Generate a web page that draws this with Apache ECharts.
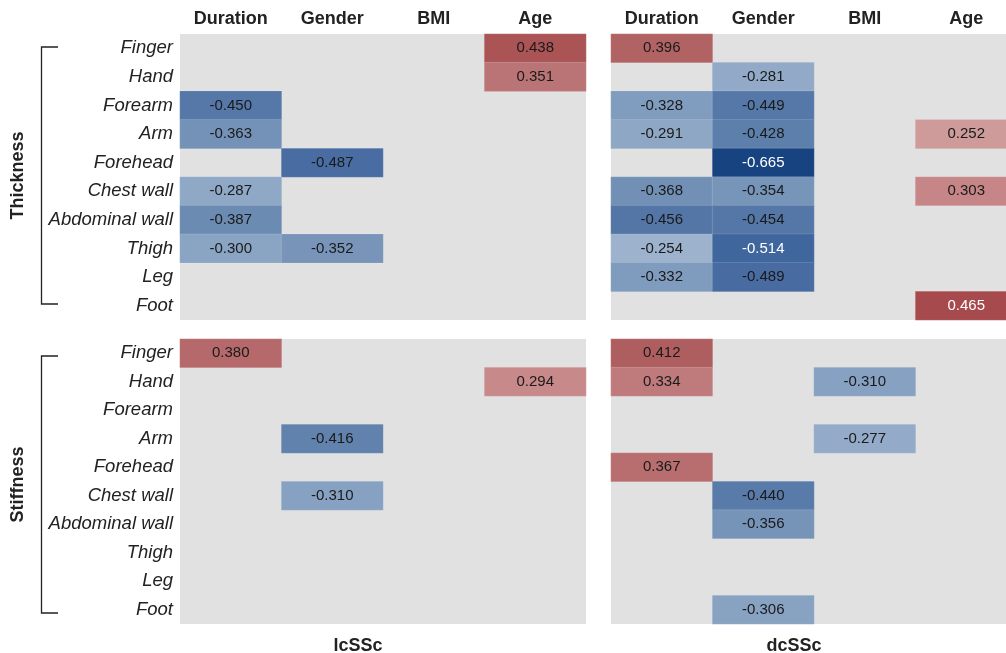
<!DOCTYPE html>
<html>
<head>
<meta charset="utf-8">
<script src="https://cdn.jsdelivr.net/npm/echarts@6/dist/echarts.min.js"></script>
<style>
  html, body { margin: 0; padding: 0; background: #ffffff; }
  #chart { width: 1006px; height: 653px; }
</style>
</head>
<body>
<div id="chart"></div>
<script>
// Body sites (rows) and clinical variables (columns)
const sites = ['Finger', 'Hand', 'Forearm', 'Arm', 'Forehead', 'Chest wall', 'Abdominal wall', 'Thigh', 'Leg', 'Foot'];
const variables = ['Duration', 'Gender', 'BMI', 'Age'];
const subsets = ['lcSSc', 'dcSSc'];
const measures = ['Thickness', 'Stiffness'];

// Significant correlation coefficients; null = not significant
// Columns: Duration, Gender, BMI, Age
const lcThickness = [
  [null, null, null, 0.438],
  [null, null, null, 0.351],
  [-0.450, null, null, null],
  [-0.363, null, null, null],
  [null, -0.487, null, null],
  [-0.287, null, null, null],
  [-0.387, null, null, null],
  [-0.300, -0.352, null, null],
  [null, null, null, null],
  [null, null, null, null]
];
const dcThickness = [
  [0.396, null, null, null],
  [null, -0.281, null, null],
  [-0.328, -0.449, null, null],
  [-0.291, -0.428, null, 0.252],
  [null, -0.665, null, null],
  [-0.368, -0.354, null, 0.303],
  [-0.456, -0.454, null, null],
  [-0.254, -0.514, null, null],
  [-0.332, -0.489, null, null],
  [null, null, null, 0.465]
];
const lcStiffness = [
  [0.380, null, null, null],
  [null, null, null, 0.294],
  [null, null, null, null],
  [null, -0.416, null, null],
  [null, null, null, null],
  [null, -0.310, null, null],
  [null, null, null, null],
  [null, null, null, null],
  [null, null, null, null],
  [null, null, null, null]
];
const dcStiffness = [
  [0.412, null, null, null],
  [0.334, null, -0.310, null],
  [null, null, null, null],
  [null, null, -0.277, null],
  [0.367, null, null, null],
  [null, -0.440, null, null],
  [null, -0.356, null, null],
  [null, null, null, null],
  [null, null, null, null],
  [null, -0.306, null, null]
];

const FONT = "'Liberation Sans', Arial, Helvetica, sans-serif";
const TEXT = '#222222';

// panel layout: [matrix, column index (subset), row index (measure)]
const panels = [
  [lcThickness, 0, 0],
  [dcThickness, 1, 0],
  [lcStiffness, 0, 1],
  [dcStiffness, 1, 1]
];
// the right-hand panels run slightly past the canvas edge
const gridLeft = [180, 611];
const gridW = 406;
const gridTop = [34, 339];
const gridH = [286, 285];

function cells(matrix) {
  const out = [];
  matrix.forEach((row, r) => {
    row.forEach((v, c) => {
      if (v === null) return;
      const light = v <= -0.5 || v >= 0.45;
      out.push({
        value: [c, r, v],
        label: { color: light ? '#ffffff' : '#1a1a1a' }
      });
    });
  });
  return out;
}

const grids = [], xAxes = [], yAxes = [], series = [];
panels.forEach(([matrix, col, row], i) => {
  grids.push({
    left: gridLeft[col], width: gridW, top: gridTop[row], height: gridH[row],
    outerBoundsMode: 'none',
    show: true, backgroundColor: '#e1e1e1', borderWidth: 0, containLabel: false
  });
  xAxes.push({
    type: 'category', gridIndex: i, data: variables, position: 'top',
    axisLine: { show: false }, axisTick: { show: false }, splitLine: { show: false },
    axisLabel: {
      show: row === 0, interval: 0, hideOverlap: false, margin: 6,
      fontFamily: FONT, fontSize: 18, fontWeight: 'bold', color: TEXT
    }
  });
  yAxes.push({
    type: 'category', gridIndex: i, data: sites, inverse: true,
    axisLine: { show: false }, axisTick: { show: false }, splitLine: { show: false },
    axisLabel: {
      show: col === 0, interval: 0, hideOverlap: false, margin: 7,
      fontFamily: FONT, fontSize: 18.5, fontStyle: 'italic', color: TEXT
    }
  });
  series.push({
    type: 'heatmap', xAxisIndex: i, yAxisIndex: i,
    data: cells(matrix),
    label: {
      show: true, fontFamily: FONT, fontSize: 15,
      formatter: p => p.value[2].toFixed(3)
    },
    itemStyle: { borderColor: 'rgba(255,255,255,0.25)', borderWidth: 0.5 },
    emphasis: { disabled: true }
  });
});

// bracket lines and group titles
const graphic = [];
const brackets = [[47, 304], [356, 613]];
brackets.forEach(([y1, y2], k) => {
  graphic.push({
    type: 'polyline', silent: true,
    shape: { points: [[58, y1], [41.5, y1], [41.5, y2], [58, y2]] },
    style: { stroke: '#222222', lineWidth: 1.3, fill: null }
  });
  graphic.push({
    type: 'text', silent: true, x: 18, y: (y1 + y2) / 2, rotation: Math.PI / 2,
    style: {
      text: measures[k], font: 'bold 18px ' + FONT, fill: TEXT,
      align: 'center', verticalAlign: 'middle'
    }
  });
});
[358, 794].forEach((x, k) => {
  graphic.push({
    type: 'text', silent: true, x: x, y: 646,
    style: {
      text: subsets[k], font: 'bold 18px ' + FONT, fill: TEXT,
      align: 'center', verticalAlign: 'middle'
    }
  });
});

const chart = echarts.init(document.getElementById('chart'), null, { renderer: 'canvas' });
chart.setOption({
  animation: false,
  backgroundColor: '#ffffff',
  grid: grids,
  xAxis: xAxes,
  yAxis: yAxes,
  visualMap: {
    type: 'continuous', show: false, min: -0.7, max: 0.5,
    seriesIndex: [0, 1, 2, 3], dimension: 2,
    inRange: {
      color: ['#0d3a77', '#2a5590', '#4469a0', '#6787b0', '#8aa4c3', '#b3c4d8', '#ccd4de',
              '#e0e0e0', '#dcc6c6', '#d6aeae', '#c78788', '#b06263', '#a13d41']
    }
  },
  graphic: graphic,
  series: series
});
</script>
</body>
</html>
